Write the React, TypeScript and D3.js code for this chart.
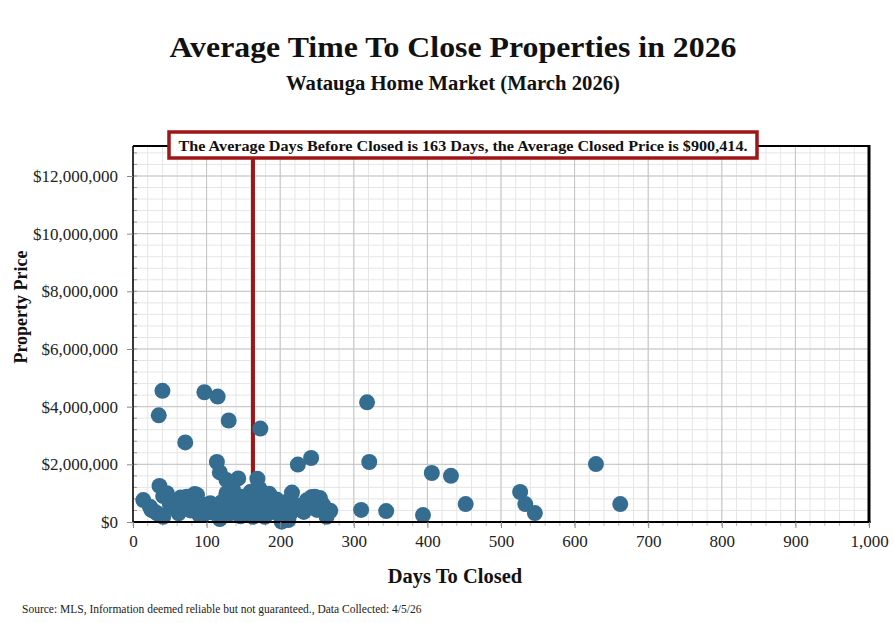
import { useEffect, useRef } from "react";
import * as d3 from "d3";

const WIDTH = 894;
const HEIGHT = 623;
const MARGIN = { top: 146, right: 25, bottom: 101, left: 133 };
const FONT = "'Liberation Serif', 'Times New Roman', serif";

const DOT_COLOR = "#356d91";
const AVG_COLOR = "#9e1616";

// days on market for each closed sale
const days = [
  40, 35, 97, 115, 130, 71, 173, 318, 321, 224, 242, 406, 432, 452, 526, 533,
  546, 629, 662, 394, 344, 310, 268,
  114, 118, 127, 143, 169, 36, 216, 195, 254, 243, 247,
  14, 23, 25, 30, 34, 41, 41, 46, 50, 54, 58, 62, 65, 70, 73, 78, 84, 87, 90,
  95, 99, 105, 108, 112, 118, 118, 121, 125, 127, 132, 136, 138, 142, 146, 150,
  154, 157, 160, 163, 166, 170, 175, 179, 183, 186, 190, 196, 202, 205, 209,
  211, 214, 220, 226, 232, 236, 240, 250, 258, 263, 48, 60, 82, 101, 134, 148,
  161, 178, 199, 229, 172, 185, 208,
];

// closed price, in thousands of dollars
const prices = [
  4550, 3700, 4500, 4350, 3520, 2760, 3240, 4150, 2080, 1990, 2220, 1700,
  1600, 620, 1040, 620, 310, 2010, 620, 240, 380, 420, 390,
  2080, 1720, 1460, 1510, 1500, 1250, 1020, 780, 830, 870, 880,
  760, 530, 420, 350, 280, 180, 900, 1000, 620, 660, 480, 300, 850, 550, 880,
  400, 970, 940, 250, 240, 600, 650, 330, 480, 180, 100, 700, 420, 1000, 300,
  1110, 750, 500, 200, 850, 600, 350, 1050, 180, 700, 950, 420, 180, 800, 550,
  350, 650, 10, 450, 700, 70, 300, 600, 450, 350, 750, 550, 420, 600, 180, 820,
  410, 560, 380, 640, 880, 260, 520, 300, 480, 1150, 980, 500,
];

const X_TICKS = [0, 100, 200, 300, 400, 500, 600, 700, 800, 900, 1000];
const Y_TICKS = [0, 2e6, 4e6, 6e6, 8e6, 10e6, 12e6];

const AVG_DAYS = 163;
const TITLE = "Average Time To Close Properties in 2026";
const SUBTITLE = "Watauga Home Market (March 2026)";
const NOTE =
  "The Average Days Before Closed is 163 Days, the Average Closed Price is $900,414.";
const SOURCE =
  "Source: MLS, Information deemed reliable but not guaranteed., Data Collected: 4/5/26";

export default function App() {
  const axesRef = useRef(null);
  const boundsWidth = WIDTH - MARGIN.left - MARGIN.right;
  const boundsHeight = HEIGHT - MARGIN.top - MARGIN.bottom;

  const xScale = d3.scaleLinear().domain([0, 1000]).range([0, boundsWidth]);
  const yScale = d3.scaleLinear().domain([0, 13.04e6]).range([boundsHeight, 0]);

  const xMinor = d3.range(0, 1001, 20);
  const yMinor = d3.range(0, 13.04e6, 4e5);

  // axes drawn by d3
  useEffect(() => {
    const g = d3.select(axesRef.current);
    g.selectAll("*").remove();

    const yAxis = g
      .append("g")
      .call(
        d3
          .axisLeft(yScale)
          .tickValues(Y_TICKS)
          .tickFormat((d) => d3.format("$,")(d as number))
          .tickSize(6)
          .tickPadding(9)
      );
    yAxis.select(".domain").remove();
    yAxis.selectAll(".tick line").attr("stroke", "#888");
    yAxis
      .selectAll("text")
      .attr("font-family", FONT)
      .attr("font-size", 17)
      .attr("fill", "#222");

    const xAxis = g
      .append("g")
      .attr("transform", `translate(0,${boundsHeight})`)
      .call(
        d3
          .axisBottom(xScale)
          .tickValues(X_TICKS)
          .tickFormat((d) => d3.format(",")(d as number))
          .tickSize(6)
          .tickPadding(7)
      );
    xAxis.select(".domain").remove();
    xAxis.selectAll(".tick line").attr("stroke", "#888");
    xAxis
      .selectAll("text")
      .attr("font-family", FONT)
      .attr("font-size", 17)
      .attr("fill", "#222");
  }, [xScale, yScale, boundsHeight]);

  const avgX = xScale(AVG_DAYS);

  return (
    <div style={{ position: "absolute", left: 0, top: 0 }}>
      <svg width={WIDTH} height={HEIGHT} style={{ display: "block", background: "#fff" }}>
        <text
          x={453}
          y={57}
          textAnchor="middle"
          fontFamily={FONT}
          fontWeight="bold"
          fontSize={30}
          textLength={567}
          lengthAdjust="spacingAndGlyphs"
          fill="#111"
        >
          {TITLE}
        </text>
        <text
          x={453}
          y={90}
          textAnchor="middle"
          fontFamily={FONT}
          fontWeight="bold"
          fontSize={20}
          textLength={334}
          lengthAdjust="spacingAndGlyphs"
          fill="#111"
        >
          {SUBTITLE}
        </text>

        <g transform={`translate(${MARGIN.left},${MARGIN.top})`}>
          {/* minor grid */}
          {xMinor.map((d) => (
            <line
              key={"xm" + d}
              x1={xScale(d)}
              x2={xScale(d)}
              y1={0}
              y2={boundsHeight}
              stroke="#e6e6e6"
              strokeWidth={1}
            />
          ))}
          {yMinor.map((d) => (
            <line
              key={"ym" + d}
              x1={0}
              x2={boundsWidth}
              y1={yScale(d)}
              y2={yScale(d)}
              stroke="#e6e6e6"
              strokeWidth={1}
            />
          ))}
          {/* major grid */}
          {X_TICKS.map((d) => (
            <line
              key={"xM" + d}
              x1={xScale(d)}
              x2={xScale(d)}
              y1={0}
              y2={boundsHeight}
              stroke="#c4c4c4"
              strokeWidth={1}
            />
          ))}
          {Y_TICKS.map((d) => (
            <line
              key={"yM" + d}
              x1={0}
              x2={boundsWidth}
              y1={yScale(d)}
              y2={yScale(d)}
              stroke="#c4c4c4"
              strokeWidth={1}
            />
          ))}
          {/* minor ticks */}
          {yMinor.map((d) => (
            <line
              key={"yt" + d}
              x1={0}
              x2={4}
              y1={yScale(d)}
              y2={yScale(d)}
              stroke="#999"
            />
          ))}
          {xMinor.map((d) => (
            <line
              key={"xt" + d}
              x1={xScale(d)}
              x2={xScale(d)}
              y1={boundsHeight}
              y2={boundsHeight + 4}
              stroke="#bbb"
            />
          ))}

          {/* average days line */}
          <line
            x1={avgX}
            x2={avgX}
            y1={0}
            y2={boundsHeight}
            stroke={AVG_COLOR}
            strokeWidth={4}
          />

          {/* points */}
          {days.map((d, i) => (
            <circle
              key={i}
              cx={xScale(d)}
              cy={yScale(prices[i] * 1000)}
              r={8}
              fill={DOT_COLOR}
            />
          ))}

          {/* frame */}
          <line x1={0} x2={boundsWidth} y1={0} y2={0} stroke="#000" strokeWidth={2} />
          <line x1={0} x2={0} y1={0} y2={boundsHeight} stroke="#000" strokeWidth={1.5} />
          <line
            x1={boundsWidth}
            x2={boundsWidth}
            y1={-1}
            y2={boundsHeight + 1}
            stroke="#000"
            strokeWidth={3}
          />
          <line
            x1={0}
            x2={boundsWidth + 1.5}
            y1={boundsHeight}
            y2={boundsHeight}
            stroke="#000"
            strokeWidth={2}
          />

          <g ref={axesRef} />

          {/* annotation box */}
          <rect
            x={36}
            y={-14}
            width={588}
            height={26}
            fill="#fff"
            stroke={AVG_COLOR}
            strokeWidth={3.5}
          />
          <text
            x={36 + 294}
            y={5}
            textAnchor="middle"
            fontFamily={FONT}
            fontWeight="bold"
            fontSize={15.5}
            textLength={569}
            lengthAdjust="spacingAndGlyphs"
            fill="#111"
          >
            {NOTE}
          </text>
        </g>

        <text
          transform={`translate(27,${MARGIN.top + 161}) rotate(-90)`}
          textAnchor="middle"
          fontFamily={FONT}
          fontWeight="bold"
          fontSize={18}
          fill="#111"
        >
          Property Price
        </text>
        <text
          x={455}
          y={583}
          textAnchor="middle"
          fontFamily={FONT}
          fontWeight="bold"
          fontSize={20.5}
          fill="#111"
        >
          Days To Closed
        </text>
        <text x={22} y={613} fontFamily={FONT} fontSize={11.5} fill="#222">
          {SOURCE}
        </text>
      </svg>
    </div>
  );
}
